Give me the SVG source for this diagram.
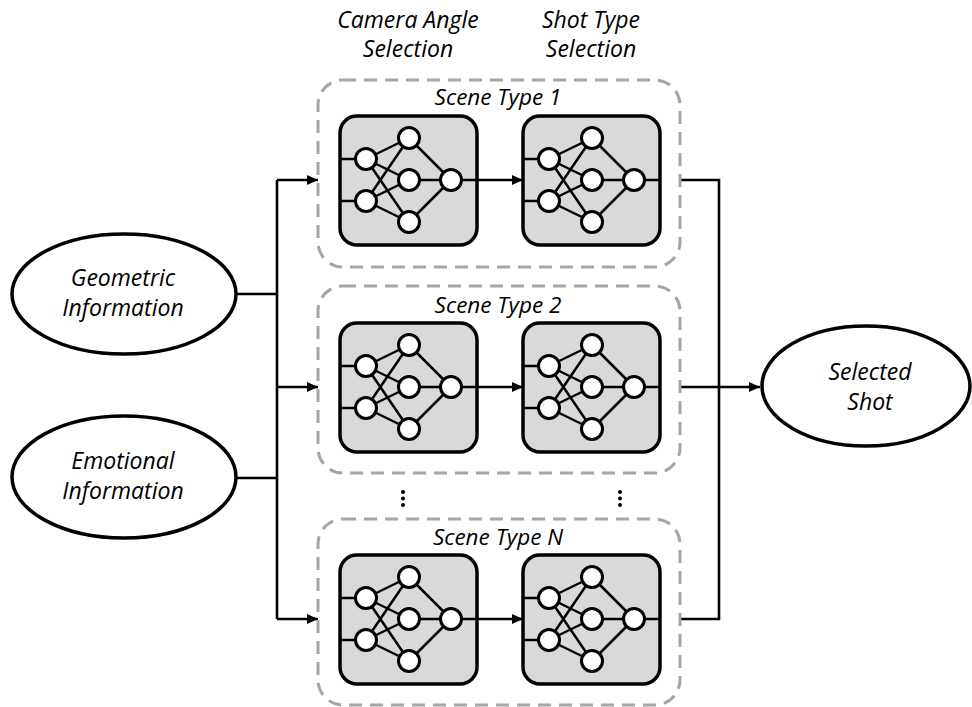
<svg xmlns="http://www.w3.org/2000/svg" xmlns:xlink="http://www.w3.org/1999/xlink" width="972" height="707" viewBox="0 0 972 707">
  <style>
    .lbl { font-family: "Open Sans", "Liberation Sans", sans-serif; font-style: italic; fill: #000; text-anchor: middle; }
    .big { font-size: 23px; }
    .mid { font-size: 22.5px; }
    .scene { fill: none; stroke: #a6a6a6; stroke-width: 3; stroke-dasharray: 13 8; }
    .ell { fill: #fff; stroke: #000; stroke-width: 3.5; }
    .wire { fill: none; stroke: #000; stroke-width: 2.6; }
    .nnbox { fill: #d9d9d9; stroke: #000; stroke-width: 3.5; }
    .nnline { stroke: #000; stroke-width: 2.5; fill: none; }
    .neuron { fill: #fff; stroke: #000; stroke-width: 3; }
  </style>
  <defs>
    <marker id="arrow" markerUnits="userSpaceOnUse" markerWidth="11" markerHeight="10" refX="11" refY="5" orient="auto">
      <path d="M0,0 L11,5 L0,10 z" fill="#000"/>
    </marker>
    <!-- small network: origin at box left edge, vertical centre of the row -->
    <g id="net">
      <rect class="nnbox" x="0" y="-64" width="137" height="129" rx="17"/>
      <path class="nnline" d="M0,-21 H26 M0,21 H26
        M26,-21 L69,-42 M26,-21 L69,0 M26,-21 L69,42
        M26,21 L69,-42 M26,21 L69,0 M26,21 L69,42
        M69,-42 L111,0 M69,0 L111,0 M69,42 L111,0 M111,0 H137"/>
      <circle class="neuron" cx="26" cy="-21" r="10.5"/>
      <circle class="neuron" cx="26" cy="21" r="10.5"/>
      <circle class="neuron" cx="69" cy="-42" r="10.5"/>
      <circle class="neuron" cx="69" cy="0" r="10.5"/>
      <circle class="neuron" cx="69" cy="42" r="10.5"/>
      <circle class="neuron" cx="111" cy="0" r="10.5"/>
    </g>
  </defs>

  <!-- column headings -->
  <g id="heading-angle">
    <text class="lbl big" x="408" y="28">Camera Angle</text>
    <text class="lbl big" x="408" y="57">Selection</text>
  </g>
  <g id="heading-shot">
    <text class="lbl big" x="591" y="28">Shot Type</text>
    <text class="lbl big" x="591" y="57">Selection</text>
  </g>

  <!-- connectors -->
  <g id="connectors">
    <path class="wire" d="M237,294 H277 M237,478 H277 M277,180 V619"/>
    <path class="wire" d="M277,180 H318" marker-end="url(#arrow)"/>
    <path class="wire" d="M277,387 H318" marker-end="url(#arrow)"/>
    <path class="wire" d="M277,619 H318" marker-end="url(#arrow)"/>
    <path class="wire" d="M477,180 H523" marker-end="url(#arrow)"/>
    <path class="wire" d="M477,387 H523" marker-end="url(#arrow)"/>
    <path class="wire" d="M477,619 H523" marker-end="url(#arrow)"/>
    <path class="wire" d="M680,180 H719 V619 H680"/>
    <path class="wire" d="M680,387 H760" marker-end="url(#arrow)"/>
  </g>

  <!-- inputs -->
  <g id="geometric-info">
    <ellipse class="ell" cx="124" cy="294" rx="112" ry="60"/>
    <text class="lbl big" x="123" y="286">Geometric</text>
    <text class="lbl big" x="123" y="316">Information</text>
  </g>
  <g id="emotional-info">
    <ellipse class="ell" cx="124" cy="477" rx="112" ry="61"/>
    <text class="lbl big" x="123" y="469">Emotional</text>
    <text class="lbl big" x="123" y="499">Information</text>
  </g>

  <!-- scene type 1 -->
  <g id="scene-1">
    <rect class="scene" x="318" y="80" width="362" height="187" rx="25"/>
    <text class="lbl mid" x="498" y="105">Scene Type 1</text>
  </g>
  <g id="scene-1-angle"><use xlink:href="#net" x="340" y="180"/></g>
  <g id="scene-1-shot"><use xlink:href="#net" x="523" y="180"/></g>

  <!-- scene type 2 -->
  <g id="scene-2">
    <rect class="scene" x="318" y="286" width="362" height="187" rx="25"/>
    <text class="lbl mid" x="498" y="313">Scene Type 2</text>
  </g>
  <g id="scene-2-angle"><use xlink:href="#net" x="340" y="387"/></g>
  <g id="scene-2-shot"><use xlink:href="#net" x="523" y="387"/></g>

  <!-- vertical ellipses -->
  <g id="more-rows">
    <circle cx="403" cy="492" r="2"/>
    <circle cx="403" cy="498.5" r="2"/>
    <circle cx="403" cy="505" r="2"/>
    <circle cx="620" cy="492" r="2"/>
    <circle cx="620" cy="498.5" r="2"/>
    <circle cx="620" cy="505" r="2"/>
  </g>

  <!-- scene type N -->
  <g id="scene-n">
    <rect class="scene" x="318" y="519" width="362" height="186" rx="25"/>
    <text class="lbl mid" x="498" y="545">Scene Type N</text>
  </g>
  <g id="scene-n-angle"><use xlink:href="#net" x="340" y="619"/></g>
  <g id="scene-n-shot"><use xlink:href="#net" x="523" y="619"/></g>

  <!-- output -->
  <g id="selected-shot">
    <ellipse class="ell" cx="866" cy="386" rx="104" ry="60"/>
    <text class="lbl big" x="870" y="380">Selected</text>
    <text class="lbl big" x="870" y="410">Shot</text>
  </g>
</svg>
